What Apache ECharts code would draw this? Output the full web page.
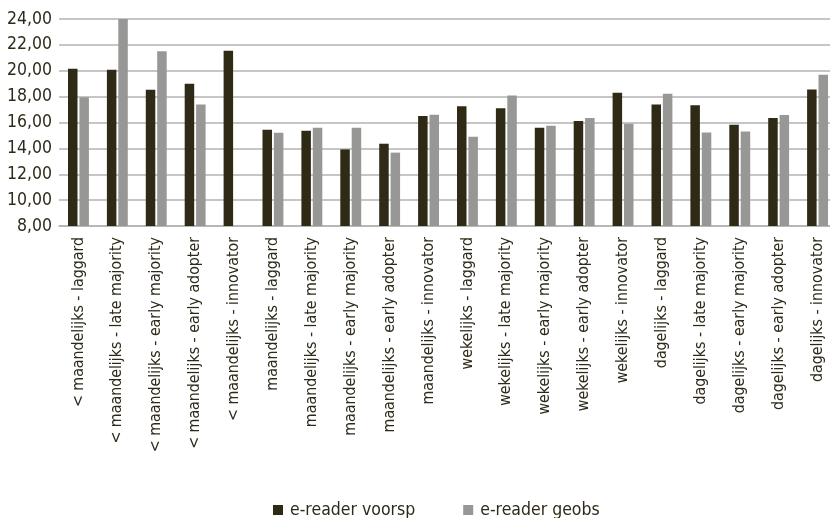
<!DOCTYPE html>
<html>
<head>
<meta charset="utf-8">
<script src="https://cdn.jsdelivr.net/npm/echarts@6/dist/echarts.min.js"></script>
<style>
html,body{margin:0;padding:0;background:#fff;}
#chart{width:830px;height:518px;}
</style>
</head>
<body>
<div id="chart"></div>
<script>
var categories = [
  "< maandelijks - laggard",
  "< maandelijks - late majority",
  "< maandelijks - early majority",
  "< maandelijks - early adopter",
  "< maandelijks - innovator",
  "maandelijks - laggard",
  "maandelijks - late majority",
  "maandelijks - early majority",
  "maandelijks - early adopter",
  "maandelijks - innovator",
  "wekelijks - laggard",
  "wekelijks - late majority",
  "wekelijks - early majority",
  "wekelijks - early adopter",
  "wekelijks - innovator",
  "dagelijks - laggard",
  "dagelijks - late majority",
  "dagelijks - early majority",
  "dagelijks - early adopter",
  "dagelijks - innovator"
];
var voorsp = [20.15, 20.08, 18.54, 19.0, 21.55, 15.44, 15.36, 13.92, 14.36, 16.5,
              17.25, 17.1, 15.6, 16.12, 18.3, 17.4, 17.33, 15.82, 16.35, 18.55];
var geobs = [17.95, 24.0, 21.5, 17.4, 7.95, 15.21, 15.59, 15.59, 13.67, 16.59,
             14.9, 18.08, 15.75, 16.35, 15.9, 18.22, 15.23, 15.3, 16.58, 19.7];
var seriesNames = ["e-reader voorsp", "e-reader geobs"];

var textColor = "#2e2a1a";
var font = "'DejaVu Sans Condensed', 'Open Sans'";
var chart = echarts.init(document.getElementById('chart'), null, {renderer: 'canvas'});
chart.setOption({
  animation: false,
  textStyle: {fontFamily: font},
  grid: {left: 59, right: -7, top: 19, bottom: 292, containLabel: false, outerBoundsMode: 'none'},
  legend: {
    data: seriesNames,
    left: 268, top: 496,
    itemWidth: 10, itemHeight: 10, itemGap: 48,
    icon: 'rect',
    textStyle: {fontFamily: font, fontSize: 17.5, color: textColor, padding: [0,0,0,2]}
  },
  xAxis: {
    type: 'category',
    data: categories,
    axisLine: {show: true, onZero: false, lineStyle: {color: '#b3b3b3', width: 1.5}},
    axisTick: {show: false},
    axisLabel: {rotate: 90, interval: 0, margin: 11, fontSize: 15.8, color: textColor, fontFamily: font}
  },
  yAxis: {
    type: 'value',
    min: 8, max: 24, interval: 2,
    axisLine: {show: false},
    axisTick: {show: false},
    splitLine: {lineStyle: {color: '#b3b3b3', width: 1.5}},
    axisLabel: {
      fontSize: 17.5, color: textColor, fontFamily: font, margin: 7,
      formatter: function (v) { return v.toFixed(2).replace('.', ','); }
    }
  },
  series: [
    {name: seriesNames[0], type: 'bar', data: voorsp, barWidth: 9.5, barGap: '20%',
     itemStyle: {color: '#2f2a15'}},
    {name: seriesNames[1], type: 'bar', data: geobs, barWidth: 9.5, barGap: '20%',
     itemStyle: {color: '#979795'}}
  ]
});
</script>
</body>
</html>
